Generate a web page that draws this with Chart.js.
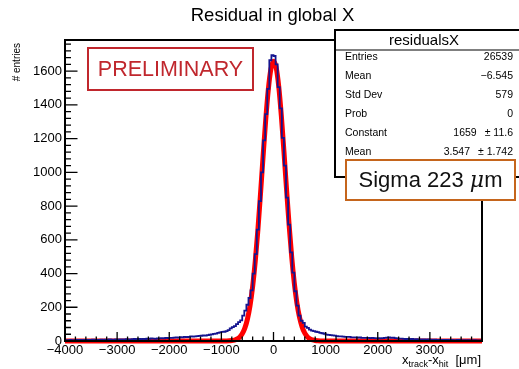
<!DOCTYPE html>
<html>
<head>
<meta charset="utf-8">
<script src="https://cdn.jsdelivr.net/npm/chart.js@4.4.1/dist/chart.umd.min.js"></script>
<style>
body { margin: 0; background: #fff; }
#wrap { width: 519px; height: 369px; position: relative; }
</style>
</head>
<body>
<div id="wrap"><canvas id="resChart"></canvas></div>
<script>
// residual histogram, 200 bins of 40 um between -4000 and 4000
var binLow = -4000;
var binWidth = 40;
var counts = [
  // -4000 .. -3000
  5, 4, 6, 5, 4, 7, 5, 6, 5, 6, 7, 5, 6, 8, 6, 7, 6, 8, 7, 8, 7, 9, 8, 7, 9,
  // -3000 .. -2000
  8, 10, 9, 8, 11, 10, 9, 11, 12, 10, 12, 11, 13, 12, 14, 13, 15, 14, 13, 16, 15, 17, 16, 18, 17,
  // -2000 .. -1000
  19, 18, 20, 21, 20, 23, 22, 24, 23, 25, 27, 26, 28,
  29, 30, 31, 33, 32, 35, 37, 39, 42, 44, 48, 51,
  // -1000 .. 0
  54, 55, 58, 64, 75, 82, 88, 100, 112, 122, 150, 180, 215,
  255, 300, 400, 515, 660, 830, 1000, 1190, 1345, 1495, 1665, 1695,
  // 0 .. 1000
  1690, 1640, 1505, 1380, 1205, 1040, 850, 690, 525, 405,
  295, 210, 150, 120, 108, 85, 78, 68, 62, 58,
  55, 53, 48, 46, 43,
  // 1000 .. 2000
  38, 36, 35, 33, 32, 29, 28, 27, 26, 25,
  24, 24, 22, 22, 21, 20, 21, 19, 19, 18,
  19, 17, 18, 17, 16,
  // 2000 .. 3000
  17, 16, 17, 18, 20, 21, 19, 20, 17, 15,
  14, 14, 13, 12, 12, 11, 12, 10, 11, 10,
  9, 10, 9, 8, 9,
  // 3000 .. 4000
  8, 7, 8, 7, 7, 6, 7, 6, 6, 5,
  6, 5, 5, 6, 5, 4, 5, 4, 5, 4,
  4, 5, 4, 4, 3
];

// gaussian fit (red line), read at these x positions
var fitX = [-4000, -900, -850, -800, -750, -700, -650, -600, -550, -500, -450, -400, -350, -300, -250, -200, -150, -100, -50,
  0, 50, 100, 150, 200, 250, 300, 350, 400, 450, 500, 550, 600, 650, 700, 750, 800, 850, 900, 4000];
var fitY = [0, 0.5, 1.1, 2.5, 5.5, 11.5, 22.6, 42.6, 76.2, 129.7, 209.8, 322.9, 472.4, 657.2, 869.5, 1094, 1309, 1490, 1612,
  1659, 1623, 1511, 1337, 1125, 900.6, 685.5, 496, 341.5, 223.5, 139.1, 82.4, 46.4, 24.8, 12.6, 6.1, 2.8, 1.2, 0.5, 0];

var xTicks = [-4000, -3000, -2000, -1000, 0, 1000, 2000, 3000];
var yTicks = [0, 200, 400, 600, 800, 1000, 1200, 1400, 1600];

var statNames = ["Entries", "Mean", "Std Dev", "Prob", "Constant", "Mean", "Sigma"];
var statValues = ["26539", "\u22126.545", "579", "0", "1659", "3.547", "223"];
var statErrors = ["", "", "", "", "\u00b1 11.6", "\u00b1 1.742", ""];

var histPts = counts.map(function (c, i) { return { x: binLow + i * binWidth, y: c }; });
histPts.push({ x: binLow + counts.length * binWidth, y: counts[counts.length - 1] });
var fitPts = fitX.map(function (x, i) { return { x: x, y: fitY[i] }; });

var FONT = "'Liberation Sans', Arial, Helvetica, sans-serif";

var rootStyle = {
  id: 'rootStyle',
  afterDatasetsDraw: function (chart) {
    var ctx = chart.ctx, a = chart.chartArea;
    var xs = chart.scales.x, ys = chart.scales.y;
    ctx.save();
    ctx.strokeStyle = '#000';
    ctx.lineWidth = 1.3;
    ctx.beginPath();
    for (var v = -4000; v <= 4000; v += 200) {
      var px = xs.getPixelForValue(v);
      var len = (v % 1000 === 0) ? 9 : 4.5;
      ctx.moveTo(px, a.bottom);
      ctx.lineTo(px, a.bottom - len);
    }
    for (var w = 0; w <= 1780; w += 40) {
      var py = ys.getPixelForValue(w);
      var l2 = (w % 200 === 0) ? 12.5 : 6;
      ctx.moveTo(a.left, py);
      ctx.lineTo(a.left + l2, py);
    }
    ctx.stroke();
    ctx.lineWidth = 2;
    ctx.strokeRect(a.left, a.top, a.right - a.left, a.bottom - a.top);
    ctx.restore();
  },
  afterDraw: function (chart) {
    var ctx = chart.ctx;
    ctx.save();
    ctx.fillStyle = '#000';

    // title
    ctx.font = '18.5px ' + FONT;
    ctx.textAlign = 'center';
    ctx.textBaseline = 'middle';
    ctx.fillText('Residual in global X', 272.5, 16);

    // y title
    ctx.save();
    ctx.translate(17, 43);
    ctx.rotate(-Math.PI / 2);
    ctx.font = '10px ' + FONT;
    ctx.textAlign = 'right';
    ctx.fillText('# entries', 0, 0);
    ctx.restore();

    // x title with subscripts
    var parts = [
      ['x', 13, 0], ['track', 9, 3], ['-x', 13, 0], ['hit', 9, 3], ['  [', 13, 0], ['\u03bc', 13, 0], ['m]', 13, 0]
    ];
    var total = 0;
    parts.forEach(function (p) { ctx.font = p[1] + 'px ' + FONT; total += ctx.measureText(p[0]).width; });
    var cx = 481 - total;
    ctx.textAlign = 'left';
    ctx.textBaseline = 'alphabetic';
    parts.forEach(function (p) {
      ctx.font = p[1] + 'px ' + FONT;
      ctx.fillText(p[0], cx, 364 + p[2]);
      cx += ctx.measureText(p[0]).width;
    });

    // PRELIMINARY box
    ctx.strokeStyle = '#c0272d';
    ctx.lineWidth = 2;
    ctx.fillStyle = '#fff';
    ctx.fillRect(88, 48, 165, 42);
    ctx.strokeRect(88, 48, 165, 42);
    ctx.fillStyle = '#c0272d';
    ctx.font = '21.5px ' + FONT;
    ctx.textAlign = 'center';
    ctx.textBaseline = 'middle';
    ctx.fillText('PRELIMINARY', 170.5, 70);

    // stats box
    ctx.fillStyle = '#fff';
    ctx.fillRect(335, 30, 200, 147);
    ctx.strokeStyle = '#000';
    ctx.lineWidth = 2;
    ctx.strokeRect(335, 30, 200, 147);
    ctx.lineWidth = 1.2;
    ctx.beginPath();
    ctx.moveTo(335, 50);
    ctx.lineTo(519, 50);
    ctx.stroke();
    ctx.fillStyle = '#000';
    ctx.font = '15px ' + FONT;
    ctx.textAlign = 'center';
    ctx.fillText('residualsX', 424, 40.5);
    ctx.font = '10.5px ' + FONT;
    statNames.forEach(function (n, i) {
      var y = 57.5 + 19 * i;
      ctx.textAlign = 'left';
      ctx.fillText(n, 345, y);
      ctx.textAlign = 'right';
      if (statErrors[i]) {
        ctx.fillText(statErrors[i], 513, y);
        var ew = ctx.measureText(statErrors[i]).width;
        ctx.fillText(statValues[i], 513 - ew - 8, y);
      } else {
        ctx.fillText(statValues[i], 513, y);
      }
    });

    // sigma annotation box
    ctx.fillStyle = '#fff';
    ctx.fillRect(346, 160, 169, 40);
    ctx.strokeStyle = '#c5651c';
    ctx.lineWidth = 2;
    ctx.strokeRect(346, 160, 169, 40);
    var sParts = [['Sigma 223 ', 'normal 22px ' + FONT], ['\u03bc', 'italic 22px "DejaVu Serif", serif'], ['m', 'normal 22px ' + FONT]];
    var sw = 0;
    sParts.forEach(function (p) { ctx.font = p[1]; sw += ctx.measureText(p[0]).width; });
    var sx = 430.5 - sw / 2;
    ctx.fillStyle = '#111';
    ctx.textAlign = 'left';
    ctx.textBaseline = 'middle';
    sParts.forEach(function (p) {
      ctx.font = p[1];
      ctx.fillText(p[0], sx, 181);
      sx += ctx.measureText(p[0]).width;
    });
    ctx.restore();
  }
};

new Chart(document.getElementById('resChart'), {
  type: 'line',
  data: {
    datasets: [
      {
        label: 'residualsX',
        data: histPts,
        borderColor: '#14148f',
        borderWidth: 1.8,
        stepped: 'before',
        pointRadius: 0,
        fill: false
      },
      {
        label: 'gaus fit',
        data: fitPts,
        borderColor: '#ff0000',
        borderWidth: 5,
        cubicInterpolationMode: 'monotone',
        pointRadius: 0,
        fill: false,
        clip: 6
      }
    ]
  },
  options: {
    responsive: true,
    maintainAspectRatio: false,
    animation: false,
    events: [],
    layout: { padding: { top: 40, right: 37, left: 0, bottom: 0 } },
    plugins: { legend: { display: false }, tooltip: { enabled: false }, title: { display: false } },
    scales: {
      x: {
        type: 'linear',
        min: -4000,
        max: 4000,
        grid: { display: false, drawTicks: false },
        border: { display: false },
        afterBuildTicks: function (s) { s.ticks = xTicks.map(function (v) { return { value: v }; }); },
        afterFit: function (s) { s.height = 28; },
        ticks: {
          autoSkip: false,
          maxRotation: 0,
          padding: 2,
          color: '#000',
          font: { family: FONT, size: 13 },
          callback: function (v) { return v < 0 ? '\u2212' + Math.abs(v) : String(v); }
        }
      },
      y: {
        min: 0,
        max: 1785,
        grid: { display: false, drawTicks: false },
        border: { display: false },
        afterBuildTicks: function (s) { s.ticks = yTicks.map(function (v) { return { value: v }; }); },
        afterFit: function (s) { s.width = 65; },
        ticks: {
          autoSkip: false,
          padding: 3,
          color: '#000',
          font: { family: FONT, size: 13 },
          callback: function (v) { return String(v); }
        }
      }
    }
  },
  plugins: [rootStyle]
});
</script>
</body>
</html>
